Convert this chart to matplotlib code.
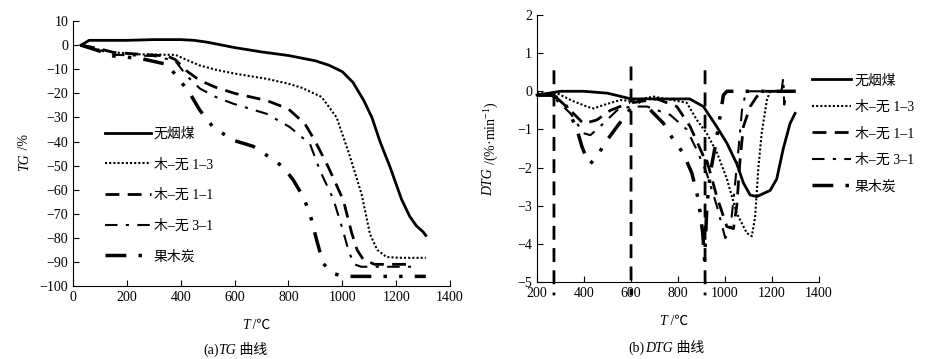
import numpy as np
import matplotlib
matplotlib.use("Agg")
import matplotlib.pyplot as plt

FAM = ['Liberation Serif', 'Noto Sans CJK SC']
plt.rcParams['font.family'] = FAM
plt.rcParams['mathtext.fontset'] = 'custom'
plt.rcParams['mathtext.it'] = 'Liberation Serif:italic'
plt.rcParams['mathtext.rm'] = 'Liberation Serif'
plt.rcParams['font.size'] = 10

labels = ['无烟煤', '木–无 1–3', '木–无 1–1', '木–无 3–1', '果木炭']
nan = np.nan

# ---- TG data (T in degC, mass change in %)
tg_coal_T = [30, 60, 100, 200, 300, 400, 450, 500, 600, 700, 800, 900, 950, 1000, 1040, 1080, 1110, 1140, 1177, 1220, 1250, 1275, 1300, 1310]
tg_coal_v = [0, 2, 2, 2, 2.3, 2.3, 2, 1.2, -1, -2.8, -4.3, -6.5, -8.3, -11, -15.5, -23, -30, -40, -50.5, -64, -71, -75, -77.5, -79]

tg_13_T = [30, 80, 150, 250, 350, 380, 420, 470, 530, 600, 720, 800, 850, 923, 979, 1028, 1072, 1103, 1130, 1165, 1220, 1310]
tg_13_v = [0, -1.5, -3, -3.8, -4, -4, -6, -8.4, -10.2, -11.8, -14, -16, -17.7, -21.5, -30, -46, -62, -78.5, -85, -88, -88.3, -88.3]

tg_11_T = [30, 100, 150, 250, 350, 380, 420, 470, 530, 600, 720, 800, 861, 898, 948, 1004, 1035, 1055, 1078, 1120, 1260]
tg_11_v = [0, -1.5, -3, -3.8, -4.5, -6, -10.5, -14.6, -17.5, -20, -23, -26.5, -32.6, -39.6, -50.6, -64.4, -78, -85, -89, -91, -91]

tg_31_T = [30, 100, 150, 300, 380, 421, 471, 530, 595, 719, 805, 880, 917, 967, 1000, 1025, 1045, 1070, 1260]
tg_31_v = [0, -2, -4, -4.5, -6.5, -12.6, -18, -21.5, -24.3, -28.5, -34, -41, -52, -64, -76, -86, -91, -92, -92]

tg_fruit_T = [30, 100, 150, 250, 350, 397, 434, 471, 520, 595, 669, 719, 781, 818, 855, 880, 905, 929, 967, 1004, 1310]
tg_fruit_v = [0, -2.5, -4.5, -5.5, -8, -14.6, -20, -27, -34, -39.5, -42, -45.7, -50.6, -56, -63, -70, -81, -90.7, -94.8, -96, -96]

# ---- DTG data (T in degC, %/min)
dtg_coal_T = [200, 300, 400, 500, 600, 700, 850, 908, 965, 1008, 1050, 1078, 1107, 1135, 1192, 1220, 1248, 1277, 1298]
dtg_coal_v = [-0.1, 0, 0, -0.05, -0.2, -0.2, -0.2, -0.4, -0.93, -1.36, -1.9, -2.4, -2.72, -2.76, -2.6, -2.3, -1.5, -0.84, -0.58]

dtg_13_T = [200, 285, 350, 412, 440, 483, 554, 597, 696, 837, 880, 922, 965, 1008, 1050, 1093, 1114, 1128, 1142, 1156, 1178, 1192, 1300]
dtg_13_v = [-0.05, -0.05, -0.25, -0.4, -0.45, -0.36, -0.23, -0.25, -0.14, -0.3, -0.75, -1.1, -1.6, -2.3, -3.2, -3.72, -3.8, -3.3, -2.0, -1.1, -0.23, 0, 0]

# the three vertical spikes (T ~ 272, 600, 915) belong to this record
dtg_11_T = [200, 266, nan, 272, 272, nan, 280, 342, 398, 455, 512, 595, nan, 600, 600, nan, 605, 710, 795, 852, 908, nan, 915, 915, nan, 922,
            965, 1008, 1036, 1050, 1064, 1078, 1107, 1135, 1160, 1300]
dtg_11_v = [-0.1, -0.1, nan, 0.55, -5.35, nan, -0.15, -0.5, -0.85, -0.75, -0.5, -0.3, nan, 0.65, -5.35, nan, -0.3, -0.2, -0.4, -0.93, -1.7, nan, 0.55, -5.35, nan, -1.8,
            -2.76, -3.55, -3.6, -3.0, -1.8, -0.93, -0.4, -0.14, 0, 0]

dtg_31_T = [200, 260, 342, 398, 427, 483, 540, 597, 668, 767, 837, 880, 922, 965, 1001, 1022, 1036, 1057, 1072, 1086, 1095, 1240, 1248, 1252, 1260, 1300]
dtg_31_v = [-0.1, -0.1, -0.58, -1.1, -1.15, -0.84, -0.5, -0.4, -0.4, -0.62, -1.0, -1.54, -2.15, -3.0, -3.85, -3.64, -2.85, -1.54, -0.5, -0.1, 0, 0, 0.35, -0.35, 0, 0]

dtg_fruit_T = [200, 260, 313, 370, 391, 413, 427, 455, 498, 540, 583, 625, 668, 738, 781, 823, 859, 887, 905, 913, 923, 937, 958, 979, 993, 1008, 1300]
dtg_fruit_v = [-0.1, -0.1, -0.23, -1.0, -1.45, -1.8, -1.9, -1.7, -1.28, -0.93, -0.58, -0.23, -0.4, -0.84, -1.28, -1.63, -2.15, -2.85, -3.72, -4.42, -3.0, -2.15, -1.45, -0.66, -0.1, 0, 0]

styles = [
    dict(color='black', lw=2.0, ls='-'),
    dict(color='black', lw=1.5, ls=(0, (1, 1))),
    dict(color='black', lw=2.0, ls=(0, (5, 3))),
    dict(color='black', lw=1.5, ls=(0, (6, 4, 1.5, 4))),
    dict(color='black', lw=2.5, ls=(0, (6, 3.5, 1, 3.5, 1, 3.5))),
]

IT = dict(family='Liberation Serif', style='italic', fontsize=10)
RM = dict(family=FAM, fontsize=10)


def style_axes(ax):
    ax.spines['top'].set_visible(False)
    ax.spines['right'].set_visible(False)
    ax.tick_params(direction='in', length=4, width=0.8, labelsize=10)


def rich_text(ax, x, y, pieces, vertical=False):
    """Chain text pieces with different fonts; (x, y) = lower-left corner in figure fraction."""
    kw0 = dict(rotation=90 if vertical else 0, ha='left', va='bottom')
    prev = None
    for s, fk in pieces:
        if prev is None:
            a = ax.annotate(s, xy=(x, y), xycoords='figure fraction', annotation_clip=False, **kw0, **fk)
        else:
            xy = (0, 1) if vertical else (1, 0)
            a = ax.annotate(s, xy=xy, xycoords=prev, annotation_clip=False, **kw0, **fk)
        prev = a


fig = plt.figure(figsize=(9.44, 3.59), dpi=100)

# (a) TG
ax1 = fig.add_axes([0.0773, 0.2033, 0.3994, 0.738])
tg = [(tg_coal_T, tg_coal_v), (tg_13_T, tg_13_v), (tg_11_T, tg_11_v), (tg_31_T, tg_31_v), (tg_fruit_T, tg_fruit_v)]
for (T, v), lab, st in zip(tg, labels, styles):
    ax1.plot(T, v, label=lab, **st)
ax1.set_xlim(0, 1400)
ax1.set_ylim(-100, 10)
ax1.set_xticks(range(0, 1401, 200))
ax1.set_yticks(range(-100, 11, 10))
style_axes(ax1)
ax1.legend(loc='upper left', bbox_to_anchor=(0.07, 0.62), frameon=False, handlelength=3.3,
           labelspacing=1.25, handletextpad=0.2, borderaxespad=0, fontsize=10)

# (b) DTG
ax2 = fig.add_axes([0.5689, 0.2145, 0.2987, 0.7437])
dtg = [(dtg_coal_T, dtg_coal_v), (dtg_13_T, dtg_13_v), (dtg_11_T, dtg_11_v), (dtg_31_T, dtg_31_v), (dtg_fruit_T, dtg_fruit_v)]
for (T, v), lab, st in zip(dtg, labels, styles):
    ax2.plot(T, v, label=lab, clip_on=False, **st)
ax2.set_xlim(200, 1400)
ax2.set_ylim(-5, 2)
ax2.set_xticks(range(200, 1401, 200))
ax2.set_yticks(range(-5, 3, 1))
style_axes(ax2)
ax2.legend(loc='upper left', bbox_to_anchor=(0.955, 0.8), frameon=False, handlelength=2.8,
           labelspacing=0.95, handletextpad=0.3, borderaxespad=0, fontsize=10)

# axis titles and captions
rich_text(ax1, 0.019, 0.525, [('TG', IT), (' /%', RM)], vertical=True)
rich_text(ax1, 0.256, 0.075, [('T', IT), (' /℃', RM)])
rich_text(ax1, 0.215, 0.006, [('(a)', RM), ('TG', IT), (' 曲线', RM)])

rich_text(ax2, 0.511, 0.455, [('DTG', IT), (' /(%·min$^{-1}$)', RM)], vertical=True)
rich_text(ax2, 0.698, 0.086, [('T', IT), (' /℃', RM)])
rich_text(ax2, 0.666, 0.011, [('(b)', RM), ('DTG', IT), (' 曲线', RM)])

fig.savefig('out.png', dpi=100)
